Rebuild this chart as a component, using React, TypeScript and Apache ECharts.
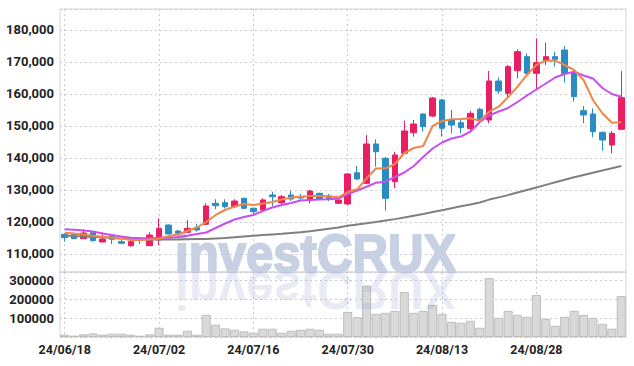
import React, { useEffect, useRef } from "react";
import * as echarts from "echarts";

const dates: string[] = [
  "24/06/18", "24/06/19", "24/06/20", "24/06/21", "24/06/24", "24/06/25", "24/06/26", "24/06/27", "24/06/28",
  "24/07/01", "24/07/02", "24/07/03", "24/07/04", "24/07/05", "24/07/08", "24/07/09", "24/07/10", "24/07/11",
  "24/07/12", "24/07/15", "24/07/16", "24/07/17", "24/07/18", "24/07/19", "24/07/22", "24/07/23", "24/07/24",
  "24/07/25", "24/07/26", "24/07/29", "24/07/30", "24/07/31",
  "24/08/01", "24/08/02", "24/08/05", "24/08/06", "24/08/07", "24/08/08", "24/08/09", "24/08/12", "24/08/13",
  "24/08/14", "24/08/16", "24/08/19", "24/08/20", "24/08/21", "24/08/22", "24/08/23", "24/08/26", "24/08/27",
  "24/08/28", "24/08/29", "24/08/30",
  "24/09/02", "24/09/03", "24/09/04", "24/09/05", "24/09/06", "24/09/09", "24/09/10",
];

const opens: number[] = [
  116150, 116150, 114800, 116650, 113750, 115840, 113850, 112590, 114900, 112590,
  114375, 119060, 117190, 116780, 118230, 119280, 125840, 126030, 124780, 127400,
  124280, 123750, 128440, 126030, 128440, 127800, 127090, 128960, 128125, 125840,
  125625, 135400, 132090, 144375, 139900, 132590, 141470, 147900, 153750, 153125,
  158125, 151875, 151040, 149220, 155220, 151875, 164060, 160210, 167290, 171670,
  166460, 170420, 171670, 173750, 166670, 154790, 153750, 148020, 144060, 148960,
];
const closes: number[] = [
  115100, 114800, 116560, 114150, 114690, 114600, 113340, 113850, 114375, 115940,
  118030, 116250, 116470, 118030, 117500, 125000, 125090, 124780, 126560, 124280,
  123220, 126875, 127900, 127900, 127190, 127500, 129690, 127190, 127280, 126875,
  135000, 133440, 144375, 141970, 127400, 140940, 148440, 150625, 149780, 158750,
  149280, 150310, 149470, 153960, 151875, 164060, 160940, 168540, 173230, 166460,
  169790, 171670, 170830, 166460, 159170, 153440, 148220, 145625, 147710, 158850,
];
const lows: number[] = [
  113850, 114600, 114700, 113900, 113700, 113125, 113030, 112280, 113125, 112500,
  112800, 116100, 115700, 116600, 117000, 119100, 123970, 124200, 124500, 123970,
  121875, 123220, 125000, 125000, 126560, 126650, 125840, 126875, 126560, 125625,
  125300, 133100, 131800, 137280, 123530, 130530, 141200, 146660, 148220, 152800,
  146660, 147710, 147700, 148440, 151500, 150840, 160000, 158650, 164900, 166150,
  161250, 169060, 168530, 163540, 157660, 150840, 146470, 142280, 141460, 148800,
];
const highs: number[] = [
  116450, 116300, 117700, 116800, 116780, 116000, 114375, 114060, 115100, 116780,
  121150, 119200, 117500, 120625, 119375, 125840, 127090, 127090, 127100, 127600,
  124500, 127400, 129470, 128440, 129780, 128750, 130000, 129150, 128750, 127100,
  135300, 137500, 147190, 145840, 140300, 141970, 151660, 151875, 154000, 159100,
  158500, 155000, 152000, 154690, 155700, 167190, 165220, 169060, 173960, 172700,
  177400, 176030, 173230, 175000, 167000, 156250, 155530, 148300, 148440, 167190,
];

const ma5: number[] = [
  116660, 116400, 116090, 115720, 115380, 115130, 114840, 114375, 114375, 114530,
  114840, 115560, 116160, 117190, 118280, 120000, 122190, 123750, 124840, 125625,
  125310, 125780, 126250, 127030, 127660, 127900, 128125, 128125, 127970, 127720,
  129375, 130220, 133660, 136720, 136780, 138125, 141560, 143125, 143750, 150000,
  151560, 152090, 152190, 152410, 151660, 154470, 156030, 158970, 162280, 165940,
  169060, 170400, 170400, 169060, 167500, 164375, 158125, 153970, 151030, 151160,
];
const ma20: number[] = [
  117720, 117560, 117340, 117030, 116400, 115940, 115470, 115060, 114900, 114900,
  115090, 115090, 115310, 115700, 116250, 116720, 118125, 119530, 120780, 121560,
  122190, 123440, 124530, 125310, 125940, 126720, 126875, 127030, 127090, 127340,
  128750, 129840, 131030, 132250, 132590, 134060, 135470, 137500, 140310, 142970,
  144840, 146090, 146720, 148220, 151250, 153280, 154530, 155625, 157500, 159530,
  161400, 163280, 165160, 166250, 166970, 165780, 164840, 161875, 160000, 159160,
];
const ma60: number[] = [
  115700, 115600, 115500, 115350, 115200, 115000, 114850, 114700, 114600, 114500,
  114500, 114500, 114550, 114600, 114650, 114700, 114850, 115000, 115200, 115450,
  115700, 115900, 116100, 116300, 116550, 116800, 117100, 117500, 117900, 118300,
  118800, 119200, 119600, 120000, 120450, 120900, 121400, 121950, 122500, 123100,
  123700, 124300, 124900, 125500, 126100, 127000, 127700, 128400, 129200, 130000,
  130800, 131600, 132400, 133200, 134000, 134700, 135400, 136100, 136800, 137500,
];

const volumes: number[] = [
  12300, 7000, 14000, 19300, 12300, 17500, 17500, 12300, 7000, 14000,
  49000, 12300, 12300, 33300, 12300, 117500, 65000, 45600, 38600, 29800,
  22800, 43900, 43900, 22800, 33300, 38600, 43900, 38600, 17500, 17500,
  133000, 105000, 272000, 122800, 128000, 138600, 238600, 128000, 138600, 170000,
  122800, 80700, 75400, 86000, 49000, 312000, 101800, 138600, 117500, 107000,
  222800, 96500, 59600, 107000, 138600, 117500, 101800, 70000, 43900, 217500,
];

const FONT = "Roboto, 'Liberation Sans', sans-serif";
const RED = "#e91e63";
const BLUE = "#2b8cc4";
const GRID_LINE = { show: true, lineStyle: { color: "#c9c9d9", type: [2, 3] as any, width: 1 } };
const WM_FONT = "bold 54px 'Liberation Sans', Arial, sans-serif";

export default function App() {
  const ref = useRef<HTMLDivElement>(null);
  useEffect(() => {
    if (!ref.current) return;
    const chart = echarts.init(ref.current, undefined, { renderer: "svg" });
    const candles = opens.map((o, i) => [o, closes[i], lows[i], highs[i]]);
    chart.setOption({
      animation: false,
      backgroundColor: "#ffffff",
      grid: [
        { left: 60, right: 8, top: 9, height: 263, show: true, borderColor: "#d4d4d4", borderWidth: 1 },
        { left: 60, right: 8, top: 272, height: 65, show: true, borderColor: "#d4d4d4", borderWidth: 1 },
      ],
      xAxis: [
        {
          type: "category", gridIndex: 0, data: dates, boundaryGap: true,
          axisLine: { show: false }, axisTick: { show: false }, axisLabel: { show: false },
          splitLine: { ...GRID_LINE, interval: 9, alignWithLabel: true },
        },
        {
          type: "category", gridIndex: 1, data: dates, boundaryGap: true,
          axisLine: { show: false }, axisTick: { show: false },
          axisLabel: { interval: 9, fontFamily: FONT, fontSize: 12.5, fontWeight: "bold", color: "#222", margin: 6 },
          splitLine: { ...GRID_LINE, interval: 9, alignWithLabel: true },
        },
      ],
      yAxis: [
        {
          type: "value", gridIndex: 0, min: 104375, max: 186560, splitNumber: 8,
          minInterval: 10000, maxInterval: 10000,
          axisLine: { show: false }, axisTick: { show: false },
          axisLabel: {
            fontFamily: FONT, fontSize: 13, fontWeight: "bold", color: "#222", margin: 6,
            showMinLabel: false, showMaxLabel: false,
            formatter: (v: number) => (v % 10000 === 0 ? v.toLocaleString("en-US") : ""),
          },
          splitLine: GRID_LINE,
        },
        {
          type: "value", gridIndex: 1, min: 0, max: 344700, interval: 100000,
          axisLine: { show: false }, axisTick: { show: false },
          axisLabel: {
            fontFamily: FONT, fontSize: 13, fontWeight: "bold", color: "#222", margin: 6,
            formatter: (v: number) => (v > 0 && v % 100000 === 0 ? String(v) : ""),
          },
          splitLine: GRID_LINE,
        },
      ],
      series: [
        {
          type: "bar", xAxisIndex: 1, yAxisIndex: 1, data: volumes, barCategoryGap: "4%",
          itemStyle: { color: "#d9d9d9", borderColor: "#bdbdbd", borderWidth: 1 },
        },
        {
          type: "candlestick", xAxisIndex: 0, yAxisIndex: 0, data: candles, barWidth: 6,
          itemStyle: { color: RED, color0: BLUE, borderColor: RED, borderColor0: BLUE, borderWidth: 1 },
        },
        { type: "line", data: ma60, showSymbol: false, symbol: "none", lineStyle: { color: "#808080", width: 2 }, z: 3 },
        { type: "line", data: ma20, showSymbol: false, symbol: "none", lineStyle: { color: "#c84fec", width: 2 }, z: 3 },
        { type: "line", data: ma5, showSymbol: false, symbol: "none", lineStyle: { color: "#f0864a", width: 2 }, z: 3 },
      ],
      graphic: [
        {
          type: "text", x: 175, y: 253, scaleX: 0.91, z: 0, silent: true,
          style: {
            text: "investCRUX", font: WM_FONT,
            fill: "#c8d0e4", stroke: "#c8d0e4", lineWidth: 2, align: "left", verticalAlign: "middle",
          },
        },
        {
          type: "text", x: 175, y: 291, scaleX: 0.91, scaleY: -1, z: 100, silent: true,
          style: {
            text: "investCRUX", font: WM_FONT,
            fill: "rgba(150,165,205,0.22)", align: "left", verticalAlign: "middle",
          },
        },
      ],
    });
    return () => chart.dispose();
  }, []);
  return <div ref={ref} style={{ width: 634, height: 366, position: "absolute", left: 0, top: 0 }} />;
}
